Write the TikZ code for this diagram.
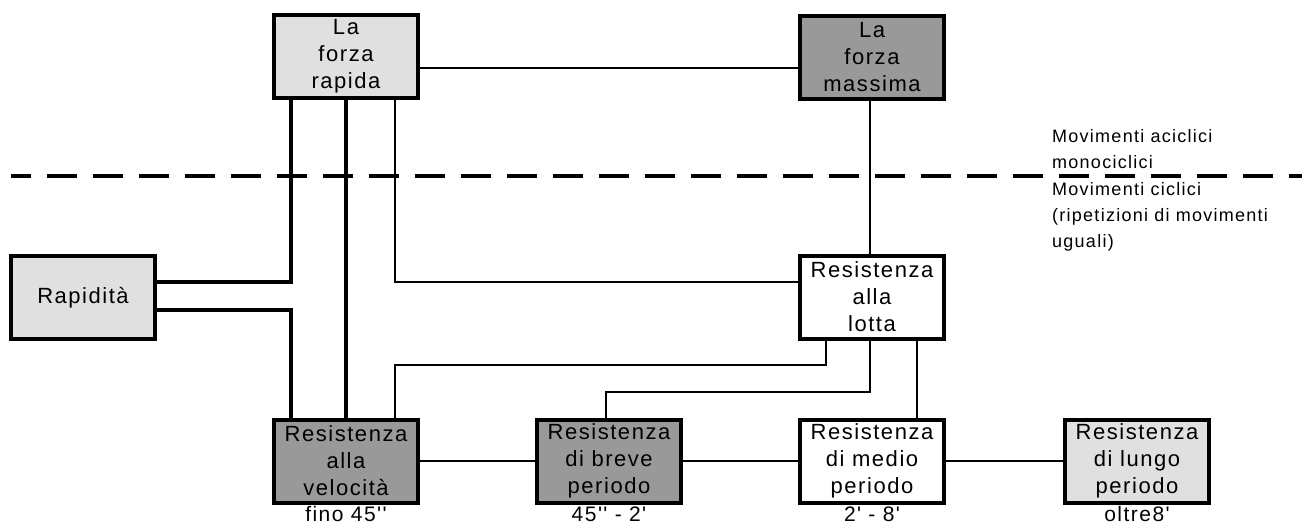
\documentclass[tikz,border=0pt]{standalone}
\usepackage{fontspec}
\usepackage{tikz}
\newfontfamily\boxfont[LetterSpace=7,Ligatures=TeXOff]{Liberation Sans}
\newfontfamily\notefont[LetterSpace=7]{Liberation Sans}
\definecolor{lightbox}{RGB}{224,224,224}
\definecolor{darkbox}{RGB}{153,153,153}

\begin{document}
\begin{tikzpicture}[x=1pt, y=-1pt,
		box/.style={draw, line width=4pt, minimum width=144pt, minimum height=83pt, inner sep=0pt, align=center, font=\boxfont\fontsize{22}{27}\selectfont},
		thinline/.style={line width=1.3pt},
		midline/.style={line width=2pt},
		thickline/.style={line width=3.5pt},
		divider/.style={line width=4pt, dash pattern=on 30pt off 16pt, dash phase=10pt},
		timelabel/.style={font=\boxfont\fontsize{21}{27}\selectfont, anchor=base, inner sep=0pt},
		note/.style={font=\notefont\fontsize{18}{26}\selectfont, align=left, anchor=north west, inner sep=0pt}]
			\useasboundingbox (0,0) rectangle (1302,525);
			\draw[divider] (11,175.5) -- (1302,175.5);

			\node[box, fill=lightbox] (rapida) at (346,56.5) {La\\forza\\rapida};
			\node[box, fill=darkbox] (massima) at (872,57) {La\\forza\\massima};
			\node[box, fill=lightbox] (rapidita) at (83,297.5) {Rapidità};
			\node[box, fill=white] (lotta) at (872,297) {Resistenza\\alla\\lotta};
			\node[box, fill=darkbox] (velocita) at (346,461) {Resistenza\\alla\\velocità};
			\node[box, fill=darkbox] (breve) at (609,461) {Resistenza\\di breve\\periodo};
			\node[box, fill=white] (medio) at (872,461) {Resistenza\\di medio\\periodo};
			\node[box, fill=lightbox] (lungo) at (1137,461) {Resistenza\\di lungo\\periodo};

			\node[timelabel] (tvelocita) at (velocita.south |- 0,521) {fino 45''};
			\node[timelabel] (tbreve) at (breve.south |- 0,521) {45'' - 2'};
			\node[timelabel] (tmedio) at (medio.south |- 0,521) {2' - 8'};
			\node[timelabel] (tlungo) at (lungo.south |- 0,521) {oltre8'};

			\node[note] (aciclici) at (1052,129.5) {Movimenti aciclici\\monociclici};
			\node[note] (ciclici) at (1052,182.5) {Movimenti ciclici\\(ripetizioni di movimenti\\uguali)};

			\draw[thinline] (rapida.east |- 0,68) -- (massima.west |- 0,68);
			\draw[midline] (massima.south -| 870,0) -- (lotta.north -| 870,0);
			\draw[thickline] (rapida.south -| 291,0) |- (rapidita.east |- 0,282);
			\draw[thickline] (rapida.south) -- (velocita.north);
			\draw[thinline] (rapida.south -| 395,0) |- (lotta.west |- 0,282);
			\draw[thickline] (rapidita.east |- 0,310) -| (velocita.north -| 291,0);
			\draw[thinline] (velocita.north -| 395,0) |- (826,365) -- (lotta.south -| 826,0);
			\draw[thinline] (breve.north -| 606,0) |- (870,392) -- (lotta.south -| 870,0);
			\draw[midline] (medio.north -| 917,0) -- (lotta.south -| 917,0);
			\foreach \a/\b in {velocita/breve, breve/medio, medio/lungo}
				\draw[thinline] (\a.east) -- (\b.west);
		\end{tikzpicture}
\end{document}
